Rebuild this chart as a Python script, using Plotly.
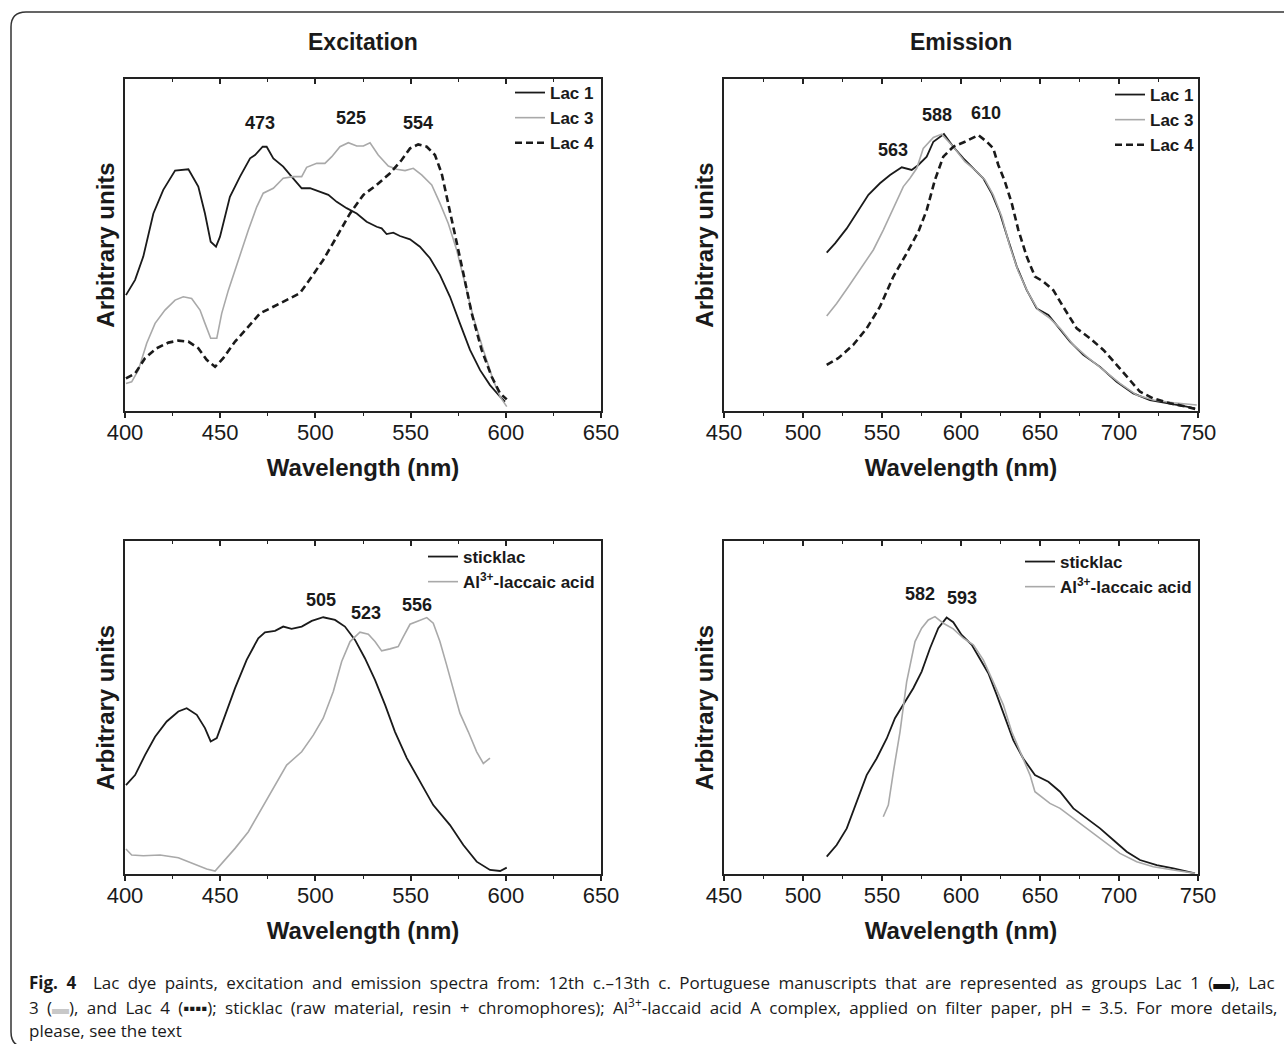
import plotly.graph_objects as go

W, H = 1284, 1044


def px(x):
    return x / W


def py(y):
    return 1 - y / H


# ---------------- DATA ----------------
# Excitation (top-left)
exc_lac1_wl = [400.5, 405.3, 409.6, 414.9, 420.1, 426.3, 433.3, 438.5, 442.0, 445.0, 447.8, 449.9, 455.1, 460.4,
               465.7, 468.3, 472.3, 474.4, 477.9, 483.1, 487.5, 492.8, 497.2, 502.4, 506.8, 511.2, 516.4, 521.7,
               526.9, 532.2, 534.8, 537.4, 540.9, 544.4, 549.7, 554.9, 560.2, 565.4, 570.7, 575.9, 581.2, 586.5,
               591.7, 597.0, 599.6]
exc_lac1_int = [0.349, 0.395, 0.465, 0.595, 0.666, 0.724, 0.728, 0.676, 0.595, 0.510, 0.495, 0.525, 0.645, 0.706,
                0.761, 0.771, 0.796, 0.796, 0.761, 0.736, 0.706, 0.671, 0.671, 0.661, 0.651, 0.630, 0.611, 0.595,
                0.570, 0.555, 0.550, 0.533, 0.537, 0.527, 0.517, 0.495, 0.460, 0.410, 0.344, 0.264, 0.184, 0.123,
                0.078, 0.043, 0.028]

exc_lac3_wl = [400.5, 403.5, 407.0, 411.4, 415.8, 421.0, 426.3, 430.6, 435.0, 439.4, 442.0, 445.0, 448.2, 450.8,
               454.3, 459.5, 464.8, 469.2, 472.6, 477.9, 483.1, 488.4, 492.8, 495.4, 500.7, 505.0, 508.6, 512.9,
               517.3, 521.7, 525.2, 528.7, 533.0, 538.3, 542.7, 547.1, 551.4, 555.8, 561.1, 565.4, 569.8, 574.2,
               578.6, 582.9, 588.2, 593.4, 597.0, 600.5]
exc_lac3_int = [0.083, 0.088, 0.123, 0.204, 0.264, 0.304, 0.334, 0.344, 0.339, 0.304, 0.264, 0.219, 0.219, 0.294,
                0.364, 0.455, 0.545, 0.615, 0.656, 0.671, 0.701, 0.706, 0.706, 0.734, 0.746, 0.746, 0.766, 0.796,
                0.808, 0.798, 0.798, 0.808, 0.771, 0.738, 0.728, 0.724, 0.731, 0.711, 0.681, 0.626, 0.565, 0.485,
                0.385, 0.284, 0.184, 0.093, 0.043, 0.013]

exc_lac4_wl = [400.5, 405.3, 410.5, 416.6, 422.8, 428.0, 433.3, 438.5, 442.9, 447.3, 451.6, 457.8, 464.8, 470.9,
               477.9, 484.9, 491.9, 498.1, 504.1, 511.2, 518.2, 525.2, 532.2, 539.2, 545.3, 549.7, 554.0, 558.5,
               562.8, 566.3, 569.8, 573.3, 577.7, 582.1, 587.3, 592.6, 597.0, 600.5]
exc_lac4_int = [0.098, 0.113, 0.159, 0.189, 0.206, 0.212, 0.209, 0.189, 0.154, 0.133, 0.159, 0.209, 0.254, 0.294,
                0.314, 0.334, 0.355, 0.405, 0.455, 0.525, 0.595, 0.651, 0.681, 0.716, 0.756, 0.791, 0.803, 0.796,
                0.771, 0.716, 0.626, 0.535, 0.415, 0.294, 0.184, 0.103, 0.053, 0.035]

# Emission (top-right)
emi_lac1_wl = [515.0, 520.3, 527.7, 534.0, 541.4, 548.7, 555.1, 562.5, 568.8, 573.0, 578.3, 582.5, 589.2, 595.1,
               601.5, 607.8, 614.1, 619.4, 624.7, 629.9, 635.3, 641.6, 647.9, 655.3, 660.6, 669.0, 677.4, 688.0,
               698.5, 709.0, 719.6, 732.3, 742.8, 748.1]
emi_lac1_int = [0.477, 0.505, 0.550, 0.595, 0.651, 0.686, 0.711, 0.734, 0.726, 0.741, 0.766, 0.811, 0.834, 0.796,
                0.761, 0.731, 0.701, 0.656, 0.595, 0.515, 0.435, 0.364, 0.309, 0.289, 0.259, 0.209, 0.169, 0.133,
                0.088, 0.053, 0.033, 0.023, 0.013, 0.008]

emi_lac3_wl = [515.0, 521.3, 528.7, 536.1, 544.5, 550.8, 557.2, 563.5, 567.7, 572.0, 576.1, 582.5, 587.8, 595.1,
               602.5, 608.9, 615.2, 620.4, 625.8, 631.0, 636.3, 642.6, 648.9, 656.3, 662.7, 671.1, 679.6, 690.1,
               700.6, 711.2, 721.7, 734.4, 749.2]
emi_lac3_int = [0.286, 0.324, 0.374, 0.425, 0.485, 0.545, 0.611, 0.676, 0.701, 0.731, 0.791, 0.824, 0.834, 0.796,
                0.751, 0.726, 0.696, 0.651, 0.585, 0.495, 0.420, 0.355, 0.304, 0.279, 0.249, 0.199, 0.164, 0.123,
                0.083, 0.048, 0.033, 0.025, 0.018]

emi_lac4_wl = [515.0, 522.3, 531.8, 540.3, 548.7, 557.2, 565.6, 573.0, 578.3, 583.5, 588.8, 595.1, 602.5, 611.0,
               616.3, 620.4, 623.6, 627.8, 632.1, 636.3, 641.6, 646.8, 652.1, 658.4, 664.7, 673.2, 681.6, 690.1,
               698.5, 705.9, 713.3, 721.7, 732.3, 742.8, 749.2]
emi_lac4_int = [0.139, 0.159, 0.199, 0.249, 0.314, 0.405, 0.475, 0.540, 0.605, 0.696, 0.766, 0.796, 0.811, 0.831,
                0.811, 0.791, 0.741, 0.691, 0.626, 0.545, 0.465, 0.405, 0.390, 0.364, 0.314, 0.249, 0.219, 0.184,
                0.139, 0.098, 0.058, 0.038, 0.023, 0.013, 0.005]

# Excitation (bottom-left)
exc_stick_wl = [400.5, 405.3, 410.5, 415.8, 421.9, 428.0, 432.4, 437.7, 442.0, 445.0, 448.2, 452.5, 457.8, 463.9,
                470.0, 473.5, 478.8, 483.1, 487.5, 492.8, 498.1, 504.1, 510.3, 515.5, 520.8, 526.0, 531.3, 536.6,
                541.8, 548.0, 554.9, 561.9, 570.7, 577.7, 584.7, 591.7, 597.0, 600.5]
exc_stick_int = [0.267, 0.297, 0.357, 0.412, 0.458, 0.488, 0.498, 0.478, 0.438, 0.398, 0.408, 0.478, 0.558, 0.643,
                 0.708, 0.726, 0.730, 0.743, 0.736, 0.743, 0.760, 0.771, 0.763, 0.743, 0.703, 0.648, 0.583, 0.508,
                 0.427, 0.348, 0.277, 0.207, 0.147, 0.087, 0.037, 0.012, 0.009, 0.019]

exc_al_wl = [400.5, 403.5, 409.6, 418.4, 428.0, 435.9, 442.9, 447.3, 451.6, 457.8, 464.8, 470.9, 477.9, 484.9,
             492.8, 498.9, 504.1, 509.4, 513.8, 518.2, 523.4, 527.8, 531.3, 534.8, 539.2, 543.5, 546.2, 549.7,
             554.0, 558.5, 561.9, 565.4, 568.9, 572.4, 575.9, 580.3, 584.7, 588.2, 591.7]
exc_al_int = [0.075, 0.057, 0.055, 0.057, 0.049, 0.032, 0.015, 0.009, 0.037, 0.077, 0.127, 0.187, 0.257, 0.327,
              0.367, 0.417, 0.468, 0.548, 0.638, 0.698, 0.726, 0.720, 0.698, 0.670, 0.676, 0.683, 0.713, 0.750,
              0.760, 0.770, 0.753, 0.698, 0.628, 0.558, 0.483, 0.427, 0.367, 0.332, 0.348]

# Emission (bottom-right)
emi_stick_wl = [515.0, 521.3, 527.7, 534.0, 540.3, 546.6, 553.0, 558.2, 564.6, 569.8, 575.1, 580.4, 585.6, 590.9,
                595.1, 600.4, 606.8, 612.0, 617.3, 622.6, 627.8, 633.1, 639.4, 646.8, 655.3, 662.7, 671.1, 679.6,
                688.0, 696.4, 704.9, 713.3, 723.9, 734.4, 742.8, 748.1]
emi_stick_int = [0.052, 0.087, 0.137, 0.217, 0.297, 0.347, 0.407, 0.468, 0.517, 0.558, 0.608, 0.678, 0.738, 0.770,
                 0.756, 0.718, 0.688, 0.648, 0.603, 0.538, 0.468, 0.402, 0.347, 0.297, 0.277, 0.247, 0.197, 0.167,
                 0.137, 0.102, 0.067, 0.042, 0.027, 0.017, 0.009, 0.002]

emi_al_wl = [550.8, 554.0, 557.2, 561.4, 565.6, 570.9, 575.1, 579.3, 583.5, 588.8, 595.1, 601.5, 607.8, 614.1,
             620.4, 626.8, 632.1, 638.4, 643.7, 646.8, 652.1, 656.3, 662.7, 671.1, 679.6, 690.1, 700.6, 711.2,
             721.7, 734.4, 748.1]
emi_al_int = [0.172, 0.207, 0.307, 0.427, 0.577, 0.698, 0.738, 0.763, 0.773, 0.753, 0.736, 0.708, 0.688, 0.643,
              0.577, 0.508, 0.427, 0.357, 0.297, 0.247, 0.227, 0.212, 0.197, 0.167, 0.137, 0.097, 0.062, 0.037,
              0.022, 0.012, 0.002]

# Peak labels: (text, x, y) per panel
peaks_exc_top = [("473", 470.9, 0.867), ("525", 518.7, 0.883), ("554", 553.9, 0.867)]
peaks_emi_top = [("563", 557.2, 0.786), ("588", 584.6, 0.892), ("610", 615.6, 0.897)]
peaks_exc_bot = [("505", 503.0, 0.823), ("523", 526.4, 0.783), ("556", 553.2, 0.808)]
peaks_emi_bot = [("582", 574.0, 0.840), ("593", 600.8, 0.828)]

panel_titles = ["Excitation", "Emission"]
x_title = "Wavelength (nm)"
y_title = "Arbitrary units"

# ---------------- STYLE ----------------
FONT = "Liberation Sans"
BLACK = "#1a1a1a"
GRAY = "#a9a9a9"
AX = "#222222"

fig = go.Figure()


def add(xs, ys, name, color, width, dash, xa, ya, legend):
    fig.add_trace(go.Scatter(x=xs, y=ys, name="<b>%s</b>" % name, mode="lines",
                             line=dict(color=color, width=width, dash=dash),
                             xaxis=xa, yaxis=ya, legend=legend, hoverinfo="skip"))


add(exc_lac1_wl, exc_lac1_int, "Lac 1", BLACK, 1.8, "solid", "x", "y", "legend")
add(exc_lac3_wl, exc_lac3_int, "Lac 3", GRAY, 1.6, "solid", "x", "y", "legend")
add(exc_lac4_wl, exc_lac4_int, "Lac 4", BLACK, 2.6, "7px,4px", "x", "y", "legend")

add(emi_lac1_wl, emi_lac1_int, "Lac 1", BLACK, 1.8, "solid", "x2", "y2", "legend2")
add(emi_lac3_wl, emi_lac3_int, "Lac 3", GRAY, 1.6, "solid", "x2", "y2", "legend2")
add(emi_lac4_wl, emi_lac4_int, "Lac 4", BLACK, 2.6, "7px,4px", "x2", "y2", "legend2")

add(exc_stick_wl, exc_stick_int, "sticklac", BLACK, 1.8, "solid", "x3", "y3", "legend3")
add(exc_al_wl, exc_al_int, "Al<sup>3+</sup>-laccaic acid", GRAY, 1.6, "solid", "x3", "y3", "legend3")

add(emi_stick_wl, emi_stick_int, "sticklac", BLACK, 1.8, "solid", "x4", "y4", "legend4")
add(emi_al_wl, emi_al_int, "Al<sup>3+</sup>-laccaic acid", GRAY, 1.6, "solid", "x4", "y4", "legend4")

# empty traces to host the mirrored (inside) top tick axes
for i, ya in zip(range(5, 9), ["y", "y2", "y3", "y4"]):
    fig.add_trace(go.Scatter(x=[None], y=[None], xaxis="x%d" % i, yaxis=ya, showlegend=False, hoverinfo="skip"))

panels = [
    # (xaxis idx, x domain px, y domain px, x range)
    (1, (125, 601), (79, 411), (400, 650)),
    (2, (724, 1198), (79, 411), (450, 750)),
    (3, (125, 601), (541, 874), (400, 650)),
    (4, (724, 1198), (541, 874), (450, 750)),
]

layout = dict(
    width=W, height=H, autosize=False,
    margin=dict(l=0, r=0, t=0, b=0),
    paper_bgcolor="white", plot_bgcolor="white",
    font=dict(family=FONT, color=BLACK),
    annotations=[], shapes=[],
)

for idx, (x0, x1), (y0, y1), rng in panels:
    sfx = "" if idx == 1 else str(idx)
    layout["xaxis" + sfx] = dict(
        domain=[px(x0), px(x1)], anchor="y" + sfx, range=list(rng),
        tick0=rng[0], dtick=50, ticks="outside", ticklen=5, tickwidth=1.5, tickcolor=AX,
        minor=dict(dtick=25, tick0=rng[0], ticks="outside", ticklen=3, tickwidth=1.3, tickcolor=AX),
        showline=True, linewidth=1.6, linecolor=AX, mirror=True,
        showgrid=False, zeroline=False,
        tickfont=dict(size=22, color=BLACK, family=FONT), ticklabelstandoff=-4,
        title=dict(text="<b>%s</b>" % x_title, font=dict(size=24, family=FONT, color=BLACK), standoff=15),
        automargin=False,
    )
    layout["yaxis" + sfx] = dict(
        domain=[py(y1), py(y0)], anchor="x" + sfx, range=[0, 1],
        showticklabels=False, ticks="", showline=True, linewidth=1.6, linecolor=AX, mirror=True,
        showgrid=False, zeroline=False,
        title=dict(text="<b>%s</b>" % y_title, font=dict(size=24, family=FONT, color=BLACK), standoff=2),
        automargin=False,
    )
    layout["xaxis%d" % (idx + 4)] = dict(
        overlaying="x" + sfx, anchor="y" + sfx, side="top", range=list(rng),
        tick0=rng[0], dtick=50, ticks="inside", ticklen=5, tickwidth=1.5, tickcolor=AX,
        minor=dict(dtick=25, tick0=rng[0], ticks="inside", ticklen=3, tickwidth=1.3, tickcolor=AX),
        showticklabels=False, showline=False, showgrid=False, zeroline=False, automargin=False,
    )

# legends
leg_common = dict(bgcolor="rgba(0,0,0,0)", borderwidth=0, font=dict(size=17, family=FONT, color=BLACK),
                  xanchor="left", yanchor="top", tracegroupgap=0, itemwidth=30)
layout["legend"] = dict(leg_common, x=px(510), y=py(75))
layout["legend2"] = dict(leg_common, x=px(1110), y=py(77))
layout["legend3"] = dict(leg_common, x=px(423), y=py(539))
layout["legend4"] = dict(leg_common, x=px(1020), y=py(544))

# peak labels
for peaks, sfx in [(peaks_exc_top, ""), (peaks_emi_top, "2"), (peaks_exc_bot, "3"), (peaks_emi_bot, "4")]:
    for txt, xv, yv in peaks:
        layout["annotations"].append(dict(
            text="<b>%s</b>" % txt, x=xv, y=yv, xref="x" + sfx, yref="y" + sfx,
            xanchor="center", yanchor="middle",
            showarrow=False, font=dict(size=18, family=FONT, color=BLACK)))

# panel titles
for t, cx in zip(panel_titles, [363, 961]):
    layout["annotations"].append(dict(
        text="<b>%s</b>" % t, x=px(cx), y=py(42), xref="paper", yref="paper",
        xanchor="center", yanchor="middle",
        showarrow=False, font=dict(size=23, family=FONT, color=BLACK)))

# caption (justified look approximated with word spacing)
CAP_FONT = "Open Sans"
caption_lines = [
    ("<b>Fig. 4</b>  Lac dye paints, excitation and emission spectra from: 12th c.–13th c. Portuguese manuscripts "
     "that are represented as groups Lac 1 (<span style='color:#111'>▬</span>), Lac", 4.0),
    ("3 (<span style='color:#c8c8c8'>▬</span>), and Lac 4 (<b>▪▪▪▪</b>); sticklac (raw material, resin + chromophores); "
     "Al<sup>3+</sup>-laccaid acid A complex, applied on filter paper, pH = 3.5. For more details,", 3.9),
    ("please, see the text", 0),
]
for (line, ws), cy in zip(caption_lines, [982, 1006, 1030]):
    txt = "<span style='word-spacing:%.1fpx'>%s</span>" % (ws, line) if ws else line
    layout["annotations"].append(dict(
        text=txt, x=px(27), y=py(cy), xref="paper", yref="paper", xanchor="left", yanchor="middle",
        showarrow=False, font=dict(size=17, family=CAP_FONT, color="#1a1a1a")))

# rounded outer frame
fx0, fy0, fx1, fy1, r = 11, 12, 1300, 1047, 15
path = ("M {a},{b} L {c},{b} Q {d},{b} {d},{e} L {d},{f} Q {d},{g} {c},{g} L {a},{g}").format(
    a=px(fx1), b=py(fy0), c=px(fx0 + r), d=px(fx0), e=py(fy0 + r), f=py(fy1 - r), g=py(fy1))
layout["shapes"].append(dict(type="path", path=path, xref="paper", yref="paper",
                             line=dict(color="#333333", width=1.5)))

fig.update_layout(**layout)
fig.write_html("out.html")
